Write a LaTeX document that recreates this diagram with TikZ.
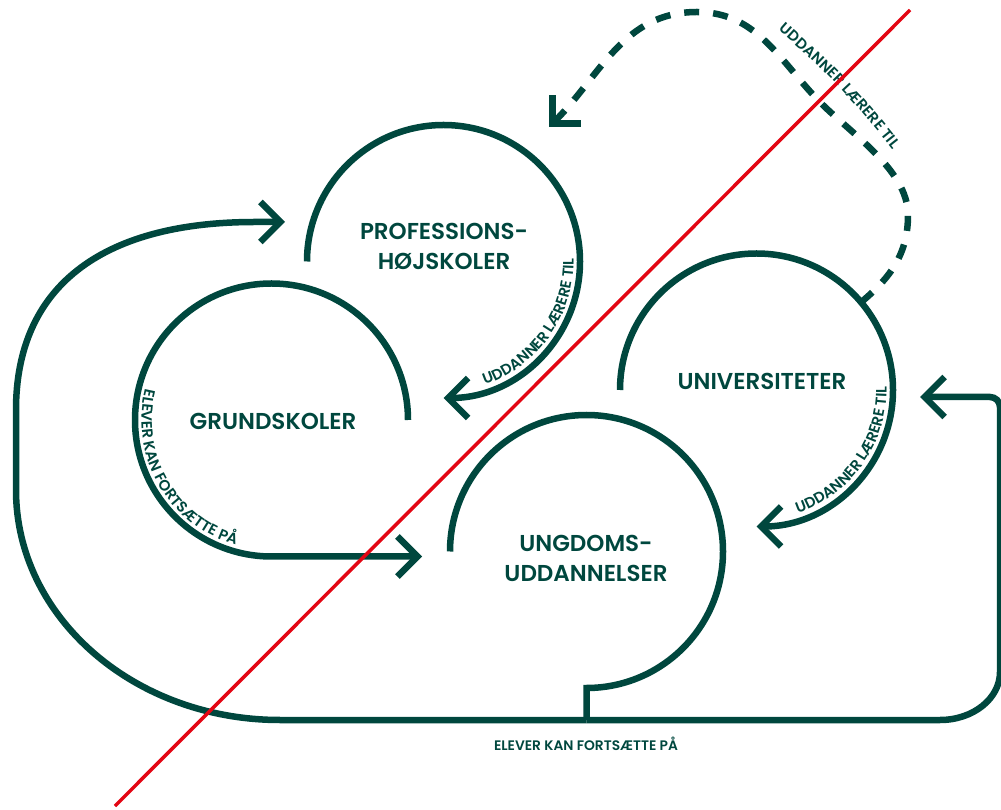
\documentclass[tikz,border=0pt]{standalone}
\usepackage{fontspec}
\usetikzlibrary{arrows.meta,decorations.text}
\IfFontExistsTF{Poppins SemiBold}{\newfontfamily\mainlabfam{Poppins SemiBold}}{\newfontfamily\mainlabfam{Poppins}[FakeBold=2]}
\IfFontExistsTF{Poppins SemiBold}{\newfontfamily\smalllabfam{Poppins SemiBold}}{\newfontfamily\smalllabfam{Poppins}[FakeBold=1.5]}
\definecolor{dg}{RGB}{0,71,62}
\definecolor{rl}{RGB}{227,6,19}
\begin{document}
\begin{tikzpicture}[x=1pt,y=1pt,
  line/.style={draw=dg, line width=6.5pt},
  >={Straight Barb[length=20pt,width=40pt]},
  dashline/.style={line, dash pattern=on 15pt off 14pt},
  mainlabel/.style={text=dg, font=\mainlabfam\fontsize{23}{30}\selectfont, align=center, inner sep=0pt},
  smalllabel/.style={text=dg, font=\smalllabfam\fontsize{13.8}{16}\selectfont, inner sep=0pt},
  curvedlabel/.style={decorate, decoration={text along path, text align=center, text color=dg, text={|\smalllabfam\fontsize{15}{17}\selectfont|#1}}},
  redline/.style={draw=rl, line width=3.5pt}]
\useasboundingbox (0,0) rectangle (1001,809);
% circle centres
\coordinate (P) at (443.5,547.5);
\coordinate (G) at (271.5,389);
\coordinate (U) at (756.5,419);
\coordinate (D) at (586.5,257.5);
% arrow ends and junction
\coordinate (J) at (586.5,89);
\coordinate (GA) at (422,252.5);
\coordinate (PA) at (285,587);
\coordinate (UA) at (920,412);
\coordinate (DA) at (549,682);
\path (U) ++(40:136.5pt) coordinate (S);
\coordinate (R1) at (115,3);
\coordinate (R2) at (910,799);

% circles
\draw[line,->] (P) ++(180:136.5pt) arc[start angle=180,end angle=-90,radius=136.5pt];
\draw[line,->] (U) ++(180:136.5pt) arc[start angle=180,end angle=-90,radius=136.5pt];
\draw[line,->] (G) ++(0:136.5pt) arc[start angle=0,end angle=270,radius=136.5pt] -- (GA);
\draw[line] (D) ++(180:136.5pt) arc[start angle=180,end angle=-90,radius=136.5pt] -- (J);

% outer loops
\draw[line,->] (J) -- (280,89) .. controls (134,89) and (16,192) .. (16,319) -- (16,399)
  .. controls (16,521) and (100,587) .. (255,587) -- (PA);
\draw[line,->] (J) -- (940,89) arc[start angle=-90,end angle=0,x radius=60pt,y radius=48pt]
  -- (1000,402) arc[start angle=0,end angle=90,radius=10pt] -- (UA);

% dashed connector
\draw[dashline,->] (S) to[out=40,in=-90] (908,594) to[out=90,in=-47,looseness=0.8] (816,711)
  to[out=133,in=0] (697,797) to[out=180,in=45] (DA);

% labels
\node[mainlabel] (Plab) at (444,563) {PROFESSIONS-\\HØJSKOLER};
\node[mainlabel, anchor=base] (Glab) at (273,379) {GRUNDSKOLER};
\node[mainlabel, anchor=base] (Ulab) at (762,419) {UNIVERSITETER};
\node[mainlabel] (Dlab) at (586,251) {UNGDOMS-\\UDDANNELSER};
\node[smalllabel, anchor=base] (Blab) at (586,59) {ELEVER KAN FORTSÆTTE PÅ};

% curved labels
\path[curvedlabel={UDDANNER LÆRERE TIL}] (P) ++(-95:130pt) arc[start angle=-95,end angle=25,radius=130pt];
\path[curvedlabel={UDDANNER LÆRERE TIL}] (U) ++(-95:130pt) arc[start angle=-95,end angle=25,radius=130pt];
\path[curvedlabel={ELEVER KAN FORTSÆTTE PÅ}] (G) ++(140:130pt) arc[start angle=140,end angle=280,radius=130pt];
\path[curvedlabel={UDDANNER LÆRERE TIL}] (765,791) to[bend left=6] (904,645);

% red line
\draw[redline] (R1) -- (R2);
\end{tikzpicture}
\end{document}
